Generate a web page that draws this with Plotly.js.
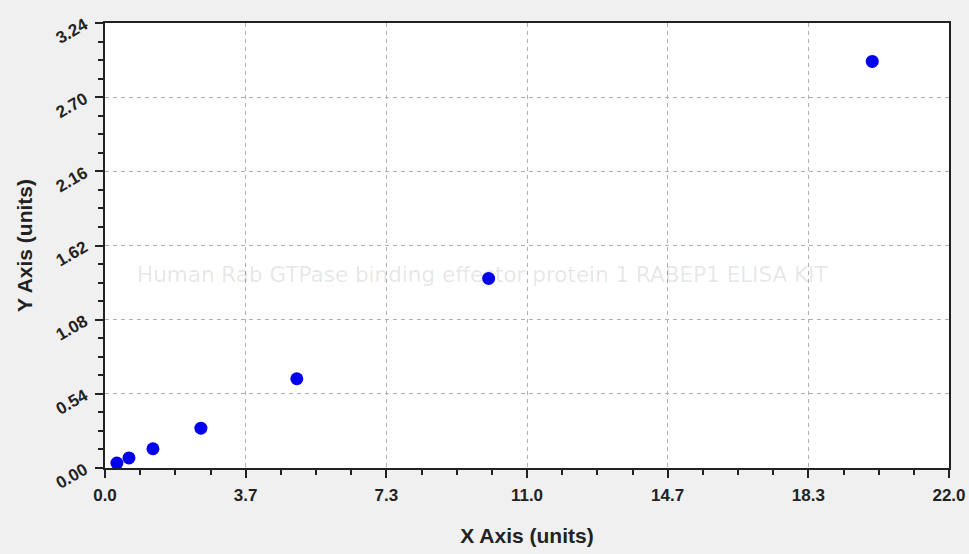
<!DOCTYPE html>
<html>
<head>
<meta charset="utf-8">
<script src="https://cdn.plot.ly/plotly-3.0.1.min.js"></script>
<style>
  html, body { margin: 0; padding: 0; background: #f0f0f0; }
  #plot { width: 969px; height: 554px; }
</style>
</head>
<body>
<div id="plot"></div>
<script>
const xValues = [0.31, 0.625, 1.25, 2.5, 5, 10, 20];
const yValues = [0.036, 0.073, 0.14, 0.29, 0.65, 1.38, 2.96];

const xTickVals = [0, 22 / 6, 44 / 6, 11, 88 / 6, 110 / 6, 22];
const xTickText = ['0.0', '3.7', '7.3', '11.0', '14.7', '18.3', '22.0'];
const yTickVals = [0, 0.54, 1.08, 1.62, 2.16, 2.70, 3.24];
const yTickText = ['0.00', '0.54', '1.08', '1.62', '2.16', '2.70', '3.24'];

const watermark = 'Human Rab GTPase binding effector protein 1 RABEP1 ELISA KIT';

const trace = {
  x: xValues,
  y: yValues,
  mode: 'markers',
  type: 'scatter',
  marker: {
    color: '#0000ee',
    size: 13,
  },
  hoverinfo: 'x+y',
};

const axisCommon = {
  showline: true,
  linecolor: '#222',
  linewidth: 2,
  mirror: true,
  ticks: 'outside',
  ticklen: 8,
  tickwidth: 2,
  tickcolor: '#222',
  showgrid: true,
  gridcolor: '#b0b0b0',
  griddash: '4px,4px',
  gridwidth: 1,
  zeroline: false,
  tickmode: 'array',
  tickfont: { family: 'Liberation Sans, Arial, sans-serif', size: 17, color: '#222', weight: 'bold' },
};

const layout = {
  showlegend: false,
  paper_bgcolor: '#f0f0f0',
  plot_bgcolor: '#ffffff',
  margin: { l: 105, r: 20, t: 23, b: 86 },
  xaxis: {
    ...axisCommon,
    range: [0, 22],
    tickvals: xTickVals,
    ticktext: xTickText,
    ticklabelstandoff: 3,
    minor: { dtick: 22 / 24, ticks: 'outside', ticklen: 5, tickwidth: 2, tickcolor: '#222', showgrid: false },
    title: {
      text: 'X Axis (units)',
      standoff: 24,
      font: { family: 'Liberation Sans, Arial, sans-serif', size: 21, color: '#222', weight: 'bold' },
    },
  },
  yaxis: {
    ...axisCommon,
    range: [0, 3.24],
    tickvals: yTickVals,
    ticktext: yTickText,
    tickangle: -30,
    ticklabelstandoff: 7,
    minor: { dtick: 0.135, ticks: 'outside', ticklen: 5, tickwidth: 2, tickcolor: '#222', showgrid: false },
    title: {
      text: 'Y Axis (units)',
      standoff: 14,
      font: { family: 'Liberation Sans, Arial, sans-serif', size: 21, color: '#222', weight: 'bold' },
    },
  },
  annotations: [{
    text: watermark,
    xref: 'paper',
    yref: 'paper',
    x: 0.448,
    y: 0.435,
    showarrow: false,
    font: { family: 'DejaVu Sans, Verdana, sans-serif', size: 21.5, color: 'rgba(0,0,0,0.11)' },
  }],
};

const config = {
  displayModeBar: false,
};

Plotly.newPlot('plot', [trace], layout, config);
</script>
</body>
</html>
